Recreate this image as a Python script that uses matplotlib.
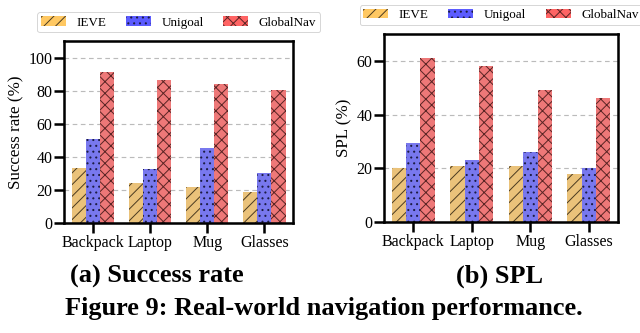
import matplotlib.pyplot as plt
from matplotlib.patches import Patch
import numpy as np

# values
categories = ["Backpack", "Laptop", "Mug", "Glasses"]
methods = ["IEVE", "Unigoal", "GlobalNav"]

sr_ieve = [33.5, 24.5, 22.0, 18.5]
sr_unigoal = [50.5, 32.5, 45.5, 30.5]
sr_globalnav = [91.5, 86.5, 84.0, 80.5]

spl_ieve = [20.0, 21.0, 21.0, 18.0]
spl_unigoal = [29.5, 23.0, 26.0, 20.0]
spl_globalnav = [61.0, 58.0, 49.0, 46.0]

# styling
DPI = 70
bar_colors = ["#EAC27A", "#7878EE", "#EE7878"]
legend_colors = ["#FFC862", "#5C5CFF", "#FF6464"]
hatch_colors = ["#4A3A20", "#1C1C44", "#5A2424"]
hatches = ["//", "..", "xx"]

plt.rcParams["font.family"] = ["Liberation Serif", "DejaVu Serif"]
plt.rcParams["hatch.linewidth"] = 1.0

fig = plt.figure(figsize=(640 / DPI, 333 / DPI), dpi=DPI)
ax1 = fig.add_axes([0.100, 0.330, 0.358, 0.547])
ax2 = fig.add_axes([0.600, 0.333, 0.366, 0.565])

x = np.arange(len(categories))
w = 0.245


def draw(ax, series, ylim, yticks, ylabel, anchor_y):
    for i, vals in enumerate(series):
        ax.bar(x + (i - 1) * w, vals, w, color=bar_colors[i],
               edgecolor=hatch_colors[i], linewidth=0, hatch=hatches[i])
    ax.set_xlim(-0.5, 3.5)
    ax.set_ylim(*ylim)
    ax.set_yticks(yticks)
    ax.set_xticks(x)
    ax.set_xticklabels(categories)
    ax.set_ylabel(ylabel, fontsize=17.5, labelpad=4)
    ax.tick_params(labelsize=16.5, length=10, width=2.6, pad=2)
    for s in ax.spines.values():
        s.set_linewidth(2.6)
    ax.yaxis.grid(True, linestyle=(0, (4, 3)), color="#BBBBBB", linewidth=1.2)
    ax.set_axisbelow(True)
    handles = [Patch(facecolor=legend_colors[i], edgecolor=hatch_colors[i],
                     linewidth=0, hatch=hatches[i]) for i in range(3)]
    ax.legend(handles, methods, loc="lower center", bbox_to_anchor=(0.5, anchor_y),
              ncol=3, fontsize=13.5, handlelength=1.9, handletextpad=0.8,
              columnspacing=1.5, borderpad=0.3, borderaxespad=0.3,
              edgecolor="#CCCCCC")


draw(ax1, [sr_ieve, sr_unigoal, sr_globalnav], (0, 110), [0, 20, 40, 60, 80, 100],
     "Success rate (%)", 1.025)
draw(ax2, [spl_ieve, spl_unigoal, spl_globalnav], (0, 70), [0, 20, 40, 60],
     "SPL (%)", 1.025)

fig.text(157 / 640, 1 - 276 / 333, "(a) Success rate", fontsize=27, fontweight="bold",
         ha="center", va="center")
fig.text(499 / 640, 1 - 276 / 333, "(b) SPL", fontsize=27, fontweight="bold",
         ha="center", va="center")
fig.text(324 / 640, 1 - 308 / 333, "Figure 9: Real-world navigation performance.",
         fontsize=27, fontweight="bold", ha="center", va="center")

fig.savefig("out.png", dpi=DPI)
